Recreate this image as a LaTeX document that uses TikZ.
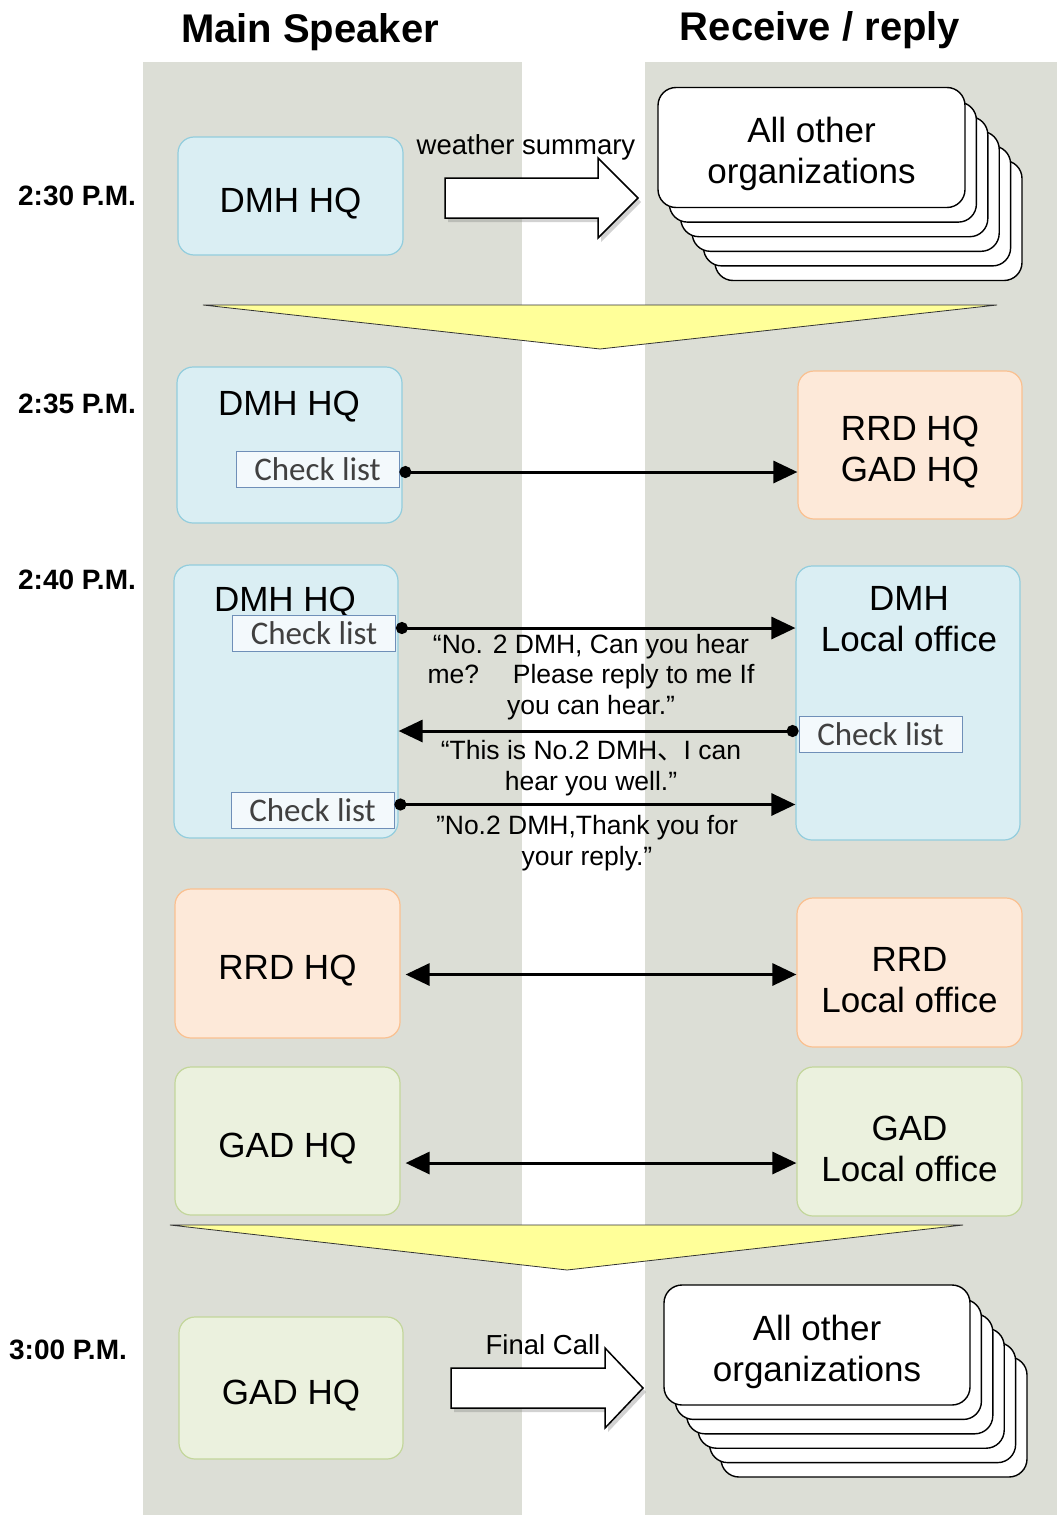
\documentclass[tikz,border=0pt]{standalone}
\usepackage{fontspec}
\setmainfont{Liberation Sans}
\newfontfamily\chkfont{Carlito}
\newfontfamily\cjkfont{Noto Sans CJK JP}
\usepackage{tikz}
\usetikzlibrary{positioning, arrows.meta, calc, shadows}
\definecolor{lanegray}{HTML}{DCDED6}
\definecolor{dmhfill}{HTML}{DAEEF3}
\definecolor{dmhline}{HTML}{93CDDD}
\definecolor{rrdfill}{HTML}{FDE9D9}
\definecolor{rrdline}{HTML}{FAC090}
\definecolor{gadfill}{HTML}{EBF1DE}
\definecolor{gadline}{HTML}{C3D69B}
\definecolor{wedgeyellow}{HTML}{FFFF99}
\definecolor{chkline}{HTML}{6F8FB8}
\definecolor{chkfill}{HTML}{F3F9FC}
\definecolor{chktext}{HTML}{404040}

\tikzset{
  orgbox/.style={rounded corners=16pt, line width=1.2pt, align=center,
    text height=39pt, font=\fontsize{35}{41}\selectfont},
  twoline/.style={text height=80pt},
  dmhbox/.style={orgbox, fill=dmhfill, draw=dmhline},
  rrdbox/.style={orgbox, fill=rrdfill, draw=rrdline},
  gadbox/.style={orgbox, fill=gadfill, draw=gadline},
  boxtext/.style={align=center, inner sep=0pt, font=\fontsize{35}{41}\selectfont},
  chkbox/.style={draw=chkline, fill=chkfill, line width=0.8pt, inner sep=0pt,
    minimum width=163pt, minimum height=36pt, text=chktext,
    font=\chkfont\fontsize{33}{36}\selectfont},
  card/.style={draw=black, fill=white, line width=1.4pt, rounded corners=18pt,
    minimum width=307pt, minimum height=120pt, align=center, text height=80pt,
    font=\fontsize{35}{41}\selectfont},
  timelabel/.style={font=\bfseries\fontsize{28}{30}\selectfont},
  header/.style={font=\bfseries\fontsize{40}{44}\selectfont},
  msg/.style={line width=3pt, {Circle[length=12pt]}-{Triangle[length=24pt,width=22pt]}},
  duplex/.style={line width=3pt, {Triangle[length=24pt,width=22pt]}-{Triangle[length=24pt,width=22pt]}},
  msgtext/.style={align=center, inner sep=0pt, font=\fontsize{26.5}{30.5}\selectfont},
  bigarrow/.style={draw=black, fill=white, line width=1.5pt,
    drop shadow={shadow xshift=3pt, shadow yshift=-4pt, opacity=0.35}},
  wedge/.style={fill=wedgeyellow, draw=black!80, line width=0.8pt},
}

\begin{document}
\begin{tikzpicture}[x=1pt, y=-1pt]
  \useasboundingbox (0,0) rectangle (1057,1515);
  \fill[white] (0,0) rectangle (1057,1515);
  % lanes
  \fill[lanegray] (143,62) rectangle (522,1515);
  \fill[lanegray] (645,62) rectangle (1057,1515);
  \node[header] (speaker) at (310,32) {Main Speaker};
  \node[header] (receiver) at (820,30) {Receive / reply};

  % 2:30
  \node[timelabel] (t230) at (77,196) {2:30 P.M.};
  \node[dmhbox, minimum width=225pt, minimum height=118pt] (dmhA) at (290.5,196) {DMH HQ};
  \node[msgtext, font=\fontsize{27.5}{30}\selectfont] (sumtext) at (526,147) {weather summary};
  \coordinate (sumtail) at (445,198);
  \draw[bigarrow] ($(sumtail)+(0,-20)$) -- ++(153,0) -- ++(0,-20) -- ++(40,40)
    -- ++(-40,40) -- ++(0,-20) -- ++(-153,0) -- cycle;
  \coordinate (stackA) at (811.5,147.5);
  \foreach \k in {5,4,3,2,1}
    \node[card] (orgsA-\k) at ($(stackA)+(\k*11.4,\k*14.6)$) {};
  \node[card] (orgsA) at (stackA) {All other\\organizations};

  \draw[wedge] (203,305) -- (997,305) -- (600,349) -- cycle;

  % 2:35
  \node[timelabel] (t235) at (77,404) {2:35 P.M.};
  \node[dmhbox, minimum width=225pt, minimum height=156pt] (dmhB) at (289.5,445) {};
  \node[boxtext] (dmhBtxt) at (289,407) {DMH HQ};
  \node[chkbox] (chkB) at (317.5,469) {Check list};
  \node[rrdbox, twoline, minimum width=224pt, minimum height=148pt] (rrdgad) at (910,445) {RRD HQ\\GAD HQ};
  \draw[msg] ($(chkB.east)+(0,3)$) -- ($(chkB.east -| rrdgad.west)+(0,3)$);

  % 2:40
  \node[timelabel] (t240) at (77,580) {2:40 P.M.};
  \node[dmhbox, minimum width=224pt, minimum height=273pt] (dmhC) at (286,701.5) {};
  \node[boxtext] (dmhCtxt) at (285,603) {DMH HQ};
  \node[chkbox] (chkC) at (314,633) {Check list};
  \node[chkbox] (chkD) at (312.5,810.5) {Check list};
  \node[dmhbox, minimum width=224pt, minimum height=274pt] (dmhlocal) at (908,703) {};
  \node[boxtext] (dmhlocaltxt) at (909,619) {DMH\\Local office};
  \node[chkbox] (chkE) at (880.5,734) {Check list};
  \draw[msg] ($(chkC.east)+(0,-5)$) -- ($(chkC.east -| dmhlocal.west)+(0,-5)$);
  \draw[msg] ($(chkE.west)+(0,-3)$) -- ($(chkE.west -| dmhC.east)+(0,-3)$);
  \draw[msg] ($(chkD.east)+(0,-6)$) -- ($(chkD.east -| dmhlocal.west)+(0,-6)$);
  \node[msgtext] (askmsg) at (591,677) {“No. 2 DMH, Can you hear\\me?\quad\ Please reply to me If\\you can hear.”};
  \node[msgtext] (replymsg) at (591,768) {“This is No.2 DMH{\cjkfont 、}I can\\hear you well.”};
  \node[msgtext] (thanksmsg) at (587,843) {”No.2 DMH,Thank you for\\your reply.”};

  % RRD and GAD
  \node[rrdbox, minimum width=225pt, minimum height=149pt] (rrdhq) at (287.5,963.5) {RRD HQ};
  \node[rrdbox, twoline, minimum width=225pt, minimum height=149pt] (rrdlocal) at (909.5,972.5) {RRD\\Local office};
  \draw[duplex] ($(rrdhq.east |- rrdlocal.west)+(5,2)$) -- ($(rrdlocal.west)+(0,2)$);
  \node[gadbox, minimum width=225pt, minimum height=148pt] (gadhq) at (287.5,1141) {GAD HQ};
  \node[gadbox, twoline, minimum width=225pt, minimum height=149pt] (gadlocal) at (909.5,1141.5) {GAD\\Local office};
  \draw[duplex] ($(gadhq.east)+(5,22)$) -- ($(gadlocal.west)+(0,21.5)$);

  \draw[wedge] (170,1225) -- (963,1225) -- (567,1270) -- cycle;

  % 3:00
  \node[timelabel] (t300) at (68,1350) {3:00 P.M.};
  \node[gadbox, minimum width=224pt, minimum height=142pt] (gadhqB) at (291,1388) {GAD HQ};
  \node[msgtext, font=\fontsize{27.5}{30}\selectfont] (finaltext) at (543,1345) {Final Call};
  \coordinate (finaltail) at (451,1388);
  \draw[bigarrow] ($(finaltail)+(0,-20)$) -- ++(154,0) -- ++(0,-20) -- ++(38,40)
    -- ++(-38,40) -- ++(0,-20) -- ++(-154,0) -- cycle;
  \coordinate (stackB) at (817,1345);
  \foreach \k in {5,4,3,2,1}
    \node[card, minimum width=306pt] (orgsB-\k) at ($(stackB)+(\k*11.4,\k*14.4)$) {};
  \node[card, minimum width=306pt] (orgsB) at (stackB) {All other\\organizations};
\end{tikzpicture}
\end{document}
